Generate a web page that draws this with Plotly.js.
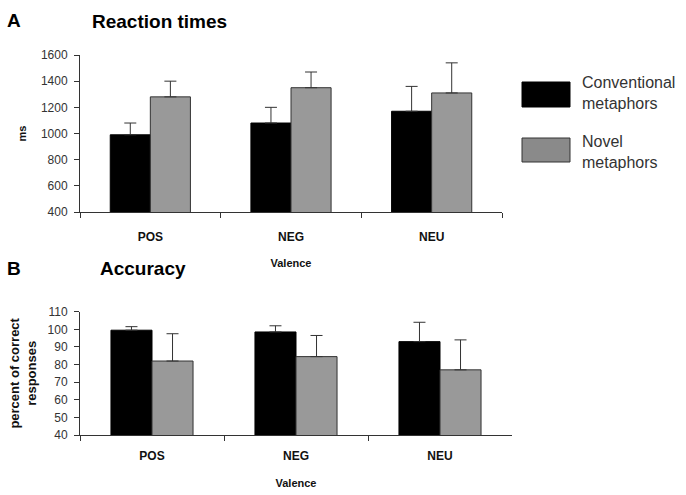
<!DOCTYPE html>
<html>
<head>
<meta charset="utf-8">
<script src="https://cdn.plot.ly/plotly-3.0.1.min.js"></script>
<style>
html,body{margin:0;padding:0;background:#fff;}
#chart{width:686px;height:495px;}
</style>
</head>
<body>
<div id="chart"></div>
<script>
// ---- data ----
var categories = ['POS', 'NEG', 'NEU'];
var seriesNames = ['Conventional<br>metaphors', 'Novel<br>metaphors'];

var rtConv = [990, 1080, 1170];
var rtConvErr = [90, 120, 190];
var rtNovel = [1280, 1350, 1310];
var rtNovelErr = [120, 120, 230];

var accConv = [99.5, 98.5, 93];
var accConvErr = [2, 3.5, 11];
var accNovel = [82, 84.5, 77];
var accNovelErr = [15.5, 12, 17];

var rtTicks = [400, 600, 800, 1000, 1200, 1400, 1600];
var accTicks = [40, 50, 60, 70, 80, 90, 100, 110];

// ---- styles ----
var FONT = 'Arial, "Liberation Sans", sans-serif';
var W = 686, H = 495;
function px(x){ return x / W; }
function py(y){ return 1 - y / H; }
var convColor = '#000000';
var novelColor = '#999999';
var lineCol = '#333333';

function errBars(arr){
  return {type:'data', array:arr, arrayminus:arr.map(function(){return 0;}),
          symmetric:false, visible:true, color:lineCol, thickness:1, width:6};
}

var traces = [
  {type:'bar', x:categories, y:rtConv, xaxis:'x', yaxis:'y', name:'Conventional metaphors',
   marker:{color:convColor, line:{color:'#000', width:1}}, error_y:errBars(rtConvErr), showlegend:false},
  {type:'bar', x:categories, y:rtNovel, xaxis:'x', yaxis:'y', name:'Novel metaphors',
   marker:{color:novelColor, line:{color:lineCol, width:1}}, error_y:errBars(rtNovelErr), showlegend:false},
  {type:'bar', x:categories, y:accConv, xaxis:'x2', yaxis:'y2', name:'Conventional metaphors',
   marker:{color:convColor, line:{color:'#000', width:1}}, error_y:errBars(accConvErr), showlegend:false},
  {type:'bar', x:categories, y:accNovel, xaxis:'x2', yaxis:'y2', name:'Novel metaphors',
   marker:{color:novelColor, line:{color:lineCol, width:1}}, error_y:errBars(accNovelErr), showlegend:false}
];

function xAxis(domain, anchor, labelStandoff, titleStandoff){
  return {domain:domain, anchor:anchor, type:'category', showline:true, linecolor:lineCol, linewidth:1,
    ticks:'outside', tickson:'boundaries', ticklen:5, tickcolor:lineCol, showgrid:false, zeroline:false,
    tickfont:{family:FONT, size:12, color:'#111', weight:'bold'}, ticklabelstandoff:labelStandoff,
    title:{text:'<b>Valence</b>', font:{family:FONT, size:11, color:'#111'}, standoff:titleStandoff}, automargin:false};
}
function yAxis(domain, anchor, range, ticks, titleText, titleSize, titleStandoff){
  return {domain:domain, anchor:anchor, range:range, tickvals:ticks, showline:true, linecolor:lineCol, linewidth:1,
    ticks:'outside', ticklen:5, tickcolor:lineCol, showgrid:false, zeroline:false,
    tickfont:{family:FONT, size:12, color:'#333'}, ticklabelstandoff:4,
    title:{text:titleText, font:{family:FONT, size:titleSize, color:'#111'}, standoff:titleStandoff}, automargin:false};
}

var layout = {
  width:W, height:H,
  margin:{l:0, r:0, t:0, b:0},
  paper_bgcolor:'#fff', plot_bgcolor:'#fff',
  barmode:'group', bargap:0.43, bargroupgap:0,
  showlegend:false,
  font:{family:FONT},
  xaxis: xAxis([px(80), px(502)], 'y', 14, 15),
  yaxis: yAxis([py(212), py(55)], 'x', [400, 1600], rtTicks, '<b>ms</b>', 11, 12),
  xaxis2: xAxis([px(80), px(512)], 'y2', 10, 16),
  yaxis2: yAxis([py(435), py(311.7)], 'x2', [40, 110], accTicks, '<b>percent of correct<br>responses</b>', 13, 8),
  shapes:[
    {type:'rect', xref:'paper', yref:'paper', x0:px(522), x1:px(570), y0:py(107), y1:py(82),
     fillcolor:convColor, line:{color:'#000', width:1}},
    {type:'rect', xref:'paper', yref:'paper', x0:px(522), x1:px(570), y0:py(162), y1:py(138),
     fillcolor:'#8a8a8a', line:{color:lineCol, width:1}}
  ],
  annotations:[
    {xref:'paper', yref:'paper', x:px(580), y:py(93), xanchor:'left', yanchor:'middle', align:'left',
     text:seriesNames[0], showarrow:false, font:{family:FONT, size:16, color:'#333'}},
    {xref:'paper', yref:'paper', x:px(580), y:py(152), xanchor:'left', yanchor:'middle', align:'left',
     text:seriesNames[1], showarrow:false, font:{family:FONT, size:16, color:'#333'}},
    {xref:'paper', yref:'paper', x:px(5), y:py(20), xanchor:'left', yanchor:'middle',
     text:'<b>A</b>', showarrow:false, font:{family:FONT, size:19, color:'#000'}},
    {xref:'paper', yref:'paper', x:px(90), y:py(21), xanchor:'left', yanchor:'middle',
     text:'<b>Reaction times</b>', showarrow:false, font:{family:FONT, size:19, color:'#000'}},
    {xref:'paper', yref:'paper', x:px(5), y:py(268), xanchor:'left', yanchor:'middle',
     text:'<b>B</b>', showarrow:false, font:{family:FONT, size:19, color:'#000'}},
    {xref:'paper', yref:'paper', x:px(98), y:py(268), xanchor:'left', yanchor:'middle',
     text:'<b>Accuracy</b>', showarrow:false, font:{family:FONT, size:19, color:'#000'}}
  ]
};

Plotly.newPlot('chart', traces, layout, {displayModeBar:false, staticPlot:true});
</script>
</body>
</html>
